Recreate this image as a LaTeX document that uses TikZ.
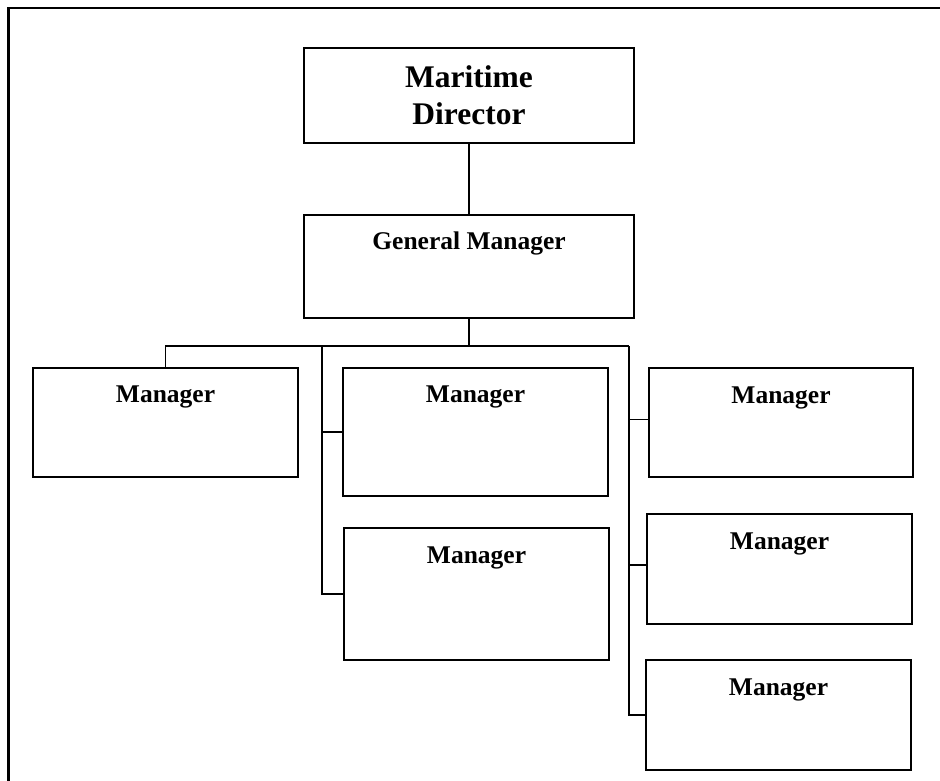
\documentclass[tikz,border=0pt]{standalone}
\usepackage{fontspec}
\setmainfont{Liberation Serif}
\begin{document}
\begin{tikzpicture}[x=1pt,y=-1pt,
  orgbox/.style={draw, line width=2pt, inner sep=0pt, outer sep=0pt,
    anchor=north west, font=\bfseries\fontsize{25.5}{30}\selectfont},
  topbox/.style={orgbox, font=\bfseries\fontsize{31.5}{37}\selectfont, align=center},
  link/.style={line width=1.8pt},
  frame/.style={line width=2.2pt}]
  \path[use as bounding box, clip] (0,0) rectangle (940,780);
  % page frame
  \draw[frame] (8.5,8) rectangle (950,790);

  % boxes
  \node[topbox, minimum width=330pt, minimum height=95pt] (md) at (304,48) {Maritime\\Director};
  \node[orgbox, minimum width=330pt, text height=34pt, text depth=69pt] (gm) at (304,215) {General Manager};
  \node[orgbox, minimum width=265pt, text height=34pt, text depth=75pt] (m1) at (33,368) {Manager};
  \node[orgbox, minimum width=265pt, text height=34pt, text depth=94pt] (m2) at (343,368) {Manager};
  \node[orgbox, minimum width=265pt, text height=35pt, text depth=97pt] (m4) at (344,528) {Manager};
  \node[orgbox, minimum width=264pt, text height=35pt, text depth=74pt] (m3) at (649,368) {Manager};
  \node[orgbox, minimum width=265pt, text height=35pt, text depth=75pt] (m5) at (647,514) {Manager};
  \node[orgbox, minimum width=265pt, text height=35pt, text depth=75pt] (m6) at (646,660) {Manager};

  % bus points
  \coordinate (busR) at (629,346);
  \coordinate (spineL) at (322,346);
  \coordinate (j3) at ([yshift=3pt]m3.west);
  \coordinate (j5) at ([yshift=4pt]m5.west);

  % connectors
  \draw[link] (md.south) -- (gm.north);
  \draw[link] (gm.south) -- (gm.south |- busR);
  \draw[link] (m1.north) |- (busR);
  \draw[link] (spineL) |- (m4.west);
  \draw[link] (spineL |- m2.west) -- (m2.west);
  \draw[link] (busR) |- (m6.west);
  \draw[link] (busR |- j3) -- (j3);
  \draw[link] (busR |- j5) -- (j5);
\end{tikzpicture}
\end{document}
